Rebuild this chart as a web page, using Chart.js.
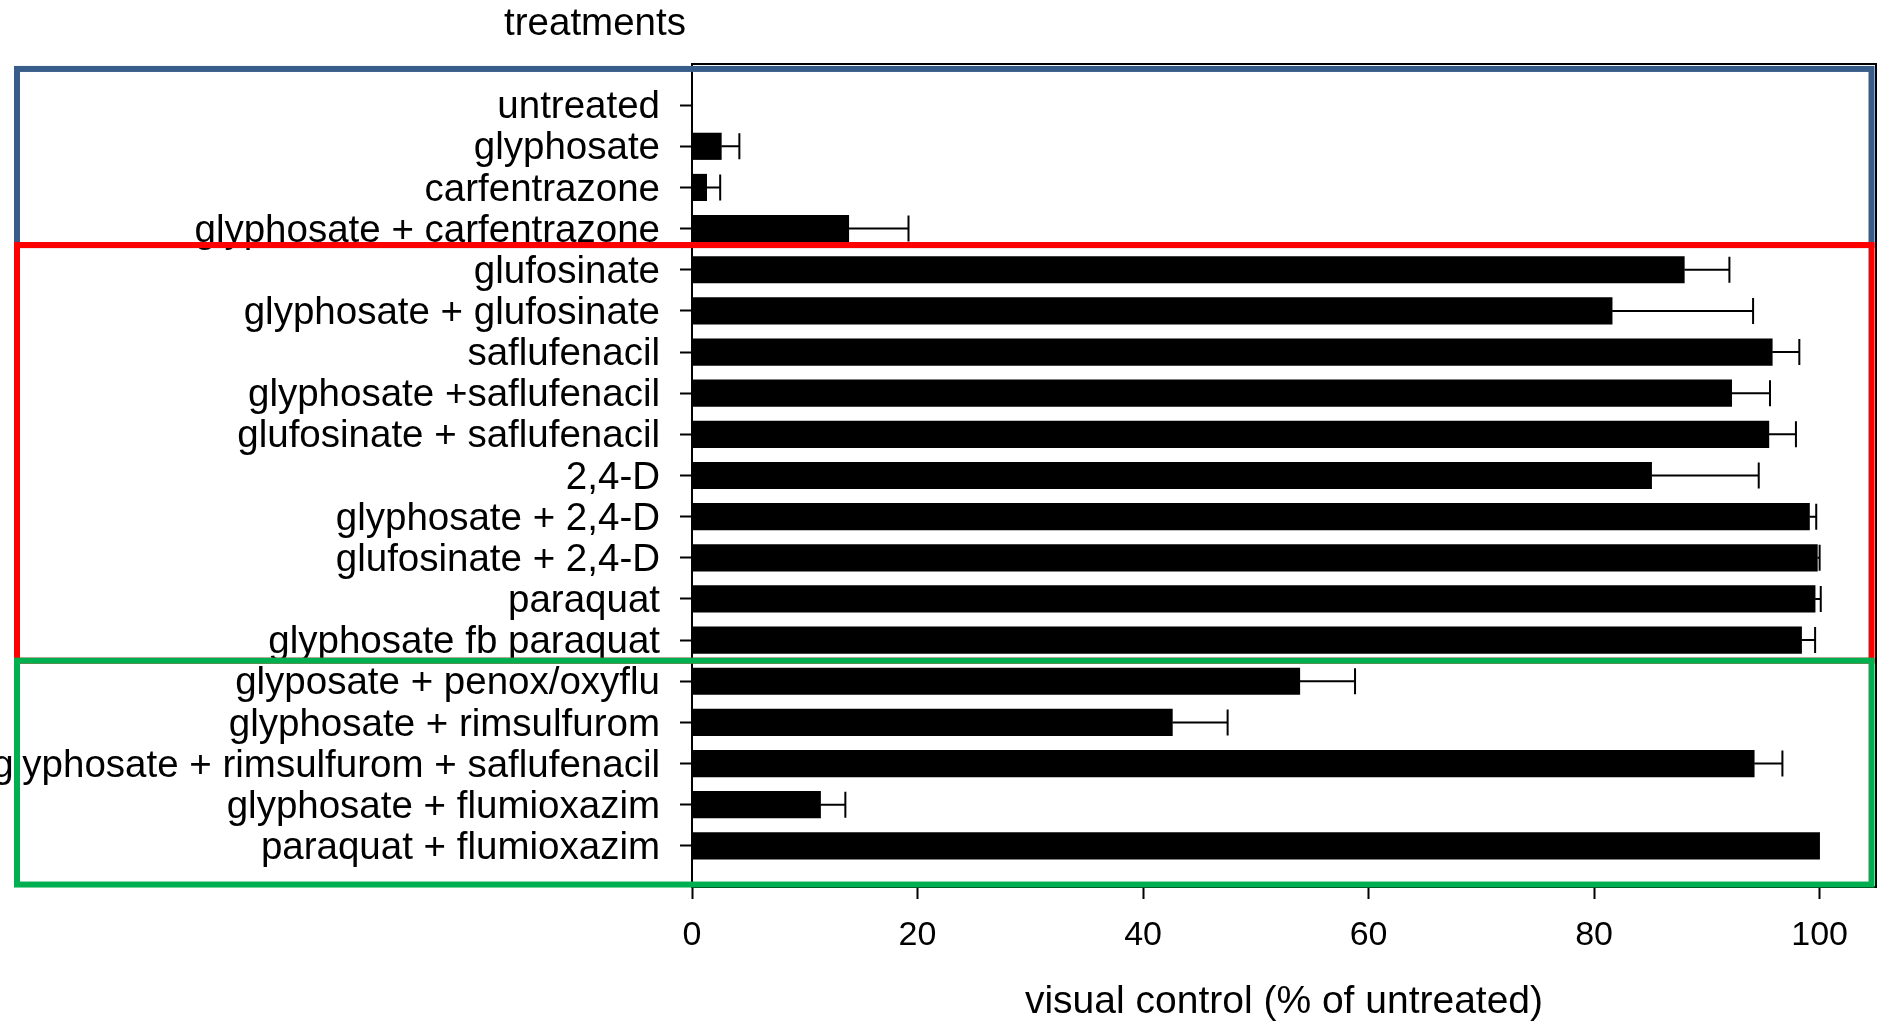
<!DOCTYPE html>
<html>
<head>
<meta charset="utf-8">
<title>Visual control by treatment</title>
<script src="https://cdn.jsdelivr.net/npm/chart.js@4.4.1/dist/chart.umd.min.js"></script>
<style>
  html, body { margin: 0; padding: 0; background: #ffffff; }
  #wrap { width: 1878px; height: 1022px; position: relative; }
</style>
</head>
<body>
<div id="wrap"><canvas id="chart" width="1878" height="1022"></canvas></div>
<script>
// Treatments, top to bottom
const treatments = [
  'untreated',
  'glyphosate',
  'carfentrazone',
  'glyphosate + carfentrazone',
  'glufosinate',
  'glyphosate + glufosinate',
  'saflufenacil',
  'glyphosate +saflufenacil',
  'glufosinate + saflufenacil',
  '2,4-D',
  'glyphosate + 2,4-D',
  'glufosinate + 2,4-D',
  'paraquat',
  'glyphosate fb paraquat',
  'glyposate + penox/oxyflu',
  'glyphosate + rimsulfurom',
  'glyphosate + rimsulfurom + saflufenacil',
  'glyphosate + flumioxazim',
  'paraquat + flumioxazim'
];

// Mean visual control (% of untreated)
const controlMean = [0, 2.6, 1.3, 13.9, 88.0, 81.6, 95.8, 92.2, 95.5, 85.1, 99.1, 99.8, 99.6, 98.4, 53.9, 42.6, 94.2, 11.4, 100];

// Standard error (upper whisker only)
const controlSE = [0, 1.6, 1.2, 5.3, 4.0, 12.5, 2.4, 3.4, 2.4, 9.5, 0.6, 0.2, 0.5, 1.2, 4.9, 4.9, 2.5, 2.2, 0];

// Value axis ticks
const xTicks = [0, 20, 40, 60, 80, 100];

// Treatment groups outlined on the chart (first and last row of each)
const groupFirst = [0, 4, 14];
const groupLast = [3, 13, 18];
const groupColors = ['#385D8A', '#FF0000', '#00B050'];

// One empty slot above and below the treatments
const rowLabels = [''].concat(treatments, ['']);
const rowValues = [null].concat(controlMean, [null]);

const FONT = '"Liberation Sans", Arial, Helvetica, sans-serif';
Chart.defaults.font.family = FONT;
Chart.defaults.color = '#000000';

// Whiskers drawn from each bar end to mean + SE, with an end cap
const errorBars = {
  id: 'errorBars',
  afterDatasetsDraw(chart) {
    const { ctx, scales: { x, y } } = chart;
    ctx.save();
    ctx.strokeStyle = '#000000';
    ctx.lineWidth = 2;
    controlMean.forEach((m, i) => {
      const se = controlSE[i];
      if (!se) return;
      const yc = y.getPixelForValue(i + 1);
      const x0 = x.getPixelForValue(m);
      const x1 = x.getPixelForValue(m + se);
      ctx.beginPath();
      ctx.moveTo(x0, yc);
      ctx.lineTo(x1, yc);
      ctx.moveTo(x1, yc - 13);
      ctx.lineTo(x1, yc + 13);
      ctx.stroke();
    });
    ctx.restore();
  }
};

// Top and right edges of the plot frame
const plotFrame = {
  id: 'plotFrame',
  beforeDatasetsDraw(chart) {
    const { ctx, chartArea: a } = chart;
    ctx.save();
    ctx.strokeStyle = '#000000';
    ctx.lineWidth = 2;
    ctx.beginPath();
    ctx.moveTo(a.left, a.top);
    ctx.lineTo(a.right, a.top);
    ctx.lineTo(a.right, a.bottom);
    ctx.stroke();
    ctx.restore();
  }
};

// Header above the treatment names
const headerText = {
  id: 'headerText',
  afterDraw(chart) {
    const { ctx } = chart;
    ctx.save();
    ctx.fillStyle = '#000000';
    ctx.font = '38.5px ' + FONT;
    ctx.textAlign = 'center';
    ctx.textBaseline = 'alphabetic';
    ctx.fillText('treatments', 595, 35);
    ctx.restore();
  }
};

// Coloured outlines around the treatment groups
const groupOutlines = {
  id: 'groupOutlines',
  afterDraw(chart) {
    const { ctx, chartArea: a, scales: { y } } = chart;
    const step = y.getPixelForValue(2) - y.getPixelForValue(1);
    // outline reach above the first row and below the last row, in rows
    const reachAbove = [0.88, 0.60, 0.50];
    const reachBelow = [0.40, 0.50, 0.94];
    ctx.save();
    ctx.lineWidth = 6;
    ctx.lineJoin = 'miter';
    groupColors.forEach((col, g) => {
      const top = y.getPixelForValue(groupFirst[g] + 1) - reachAbove[g] * step;
      const bottom = y.getPixelForValue(groupLast[g] + 1) + reachBelow[g] * step;
      const left = 17;
      const right = a.right - 4.5;
      ctx.strokeStyle = col;
      ctx.strokeRect(left, top, right - left, bottom - top);
    });
    ctx.restore();
  }
};

new Chart(document.getElementById('chart'), {
  type: 'bar',
  data: {
    labels: rowLabels,
    datasets: [{
      data: rowValues,
      backgroundColor: '#000000',
      borderWidth: 0,
      barThickness: 26.5
    }]
  },
  options: {
    indexAxis: 'y',
    responsive: false,
    animation: false,
    events: [],
    layout: { padding: { top: 64, right: 2, left: 0, bottom: 0 } },
    plugins: {
      legend: { display: false },
      tooltip: { enabled: false },
      title: { display: false }
    },
    scales: {
      y: {
        type: 'category',
        offset: false,
        grid: {
          offset: false,
          drawOnChartArea: false,
          drawTicks: true,
          tickLength: 12,
          tickWidth: 2,
          tickColor: (c) => (rowLabels[c.index] ? '#000000' : 'rgba(0,0,0,0)')
        },
        border: { display: true, color: '#000000', width: 2 },
        ticks: {
          autoSkip: false,
          padding: 20,
          labelOffset: 2.5,
          color: '#000000',
          font: { size: 38.5 },
          callback(value) { return this.getLabelForValue(value); }
        },
        afterFit(scale) { scale.width = 692; }
      },
      x: {
        type: 'linear',
        position: 'bottom',
        min: 0,
        max: 105,
        afterBuildTicks(scale) { scale.ticks = xTicks.map(v => ({ value: v })); },
        grid: {
          drawOnChartArea: false,
          drawTicks: true,
          tickLength: 12,
          tickWidth: 2,
          tickColor: '#000000'
        },
        border: { display: true, color: '#000000', width: 2 },
        ticks: {
          padding: 16,
          maxRotation: 0,
          color: '#000000',
          font: { size: 34 }
        },
        title: {
          display: true,
          text: 'visual control (% of untreated)',
          color: '#000000',
          font: { size: 39, lineHeight: 1.0 },
          padding: { top: 0, bottom: 0 }
        },
        afterFit(scale) { scale.height = 135; }
      }
    }
  },
  plugins: [plotFrame, errorBars, groupOutlines, headerText]
});
</script>
</body>
</html>
